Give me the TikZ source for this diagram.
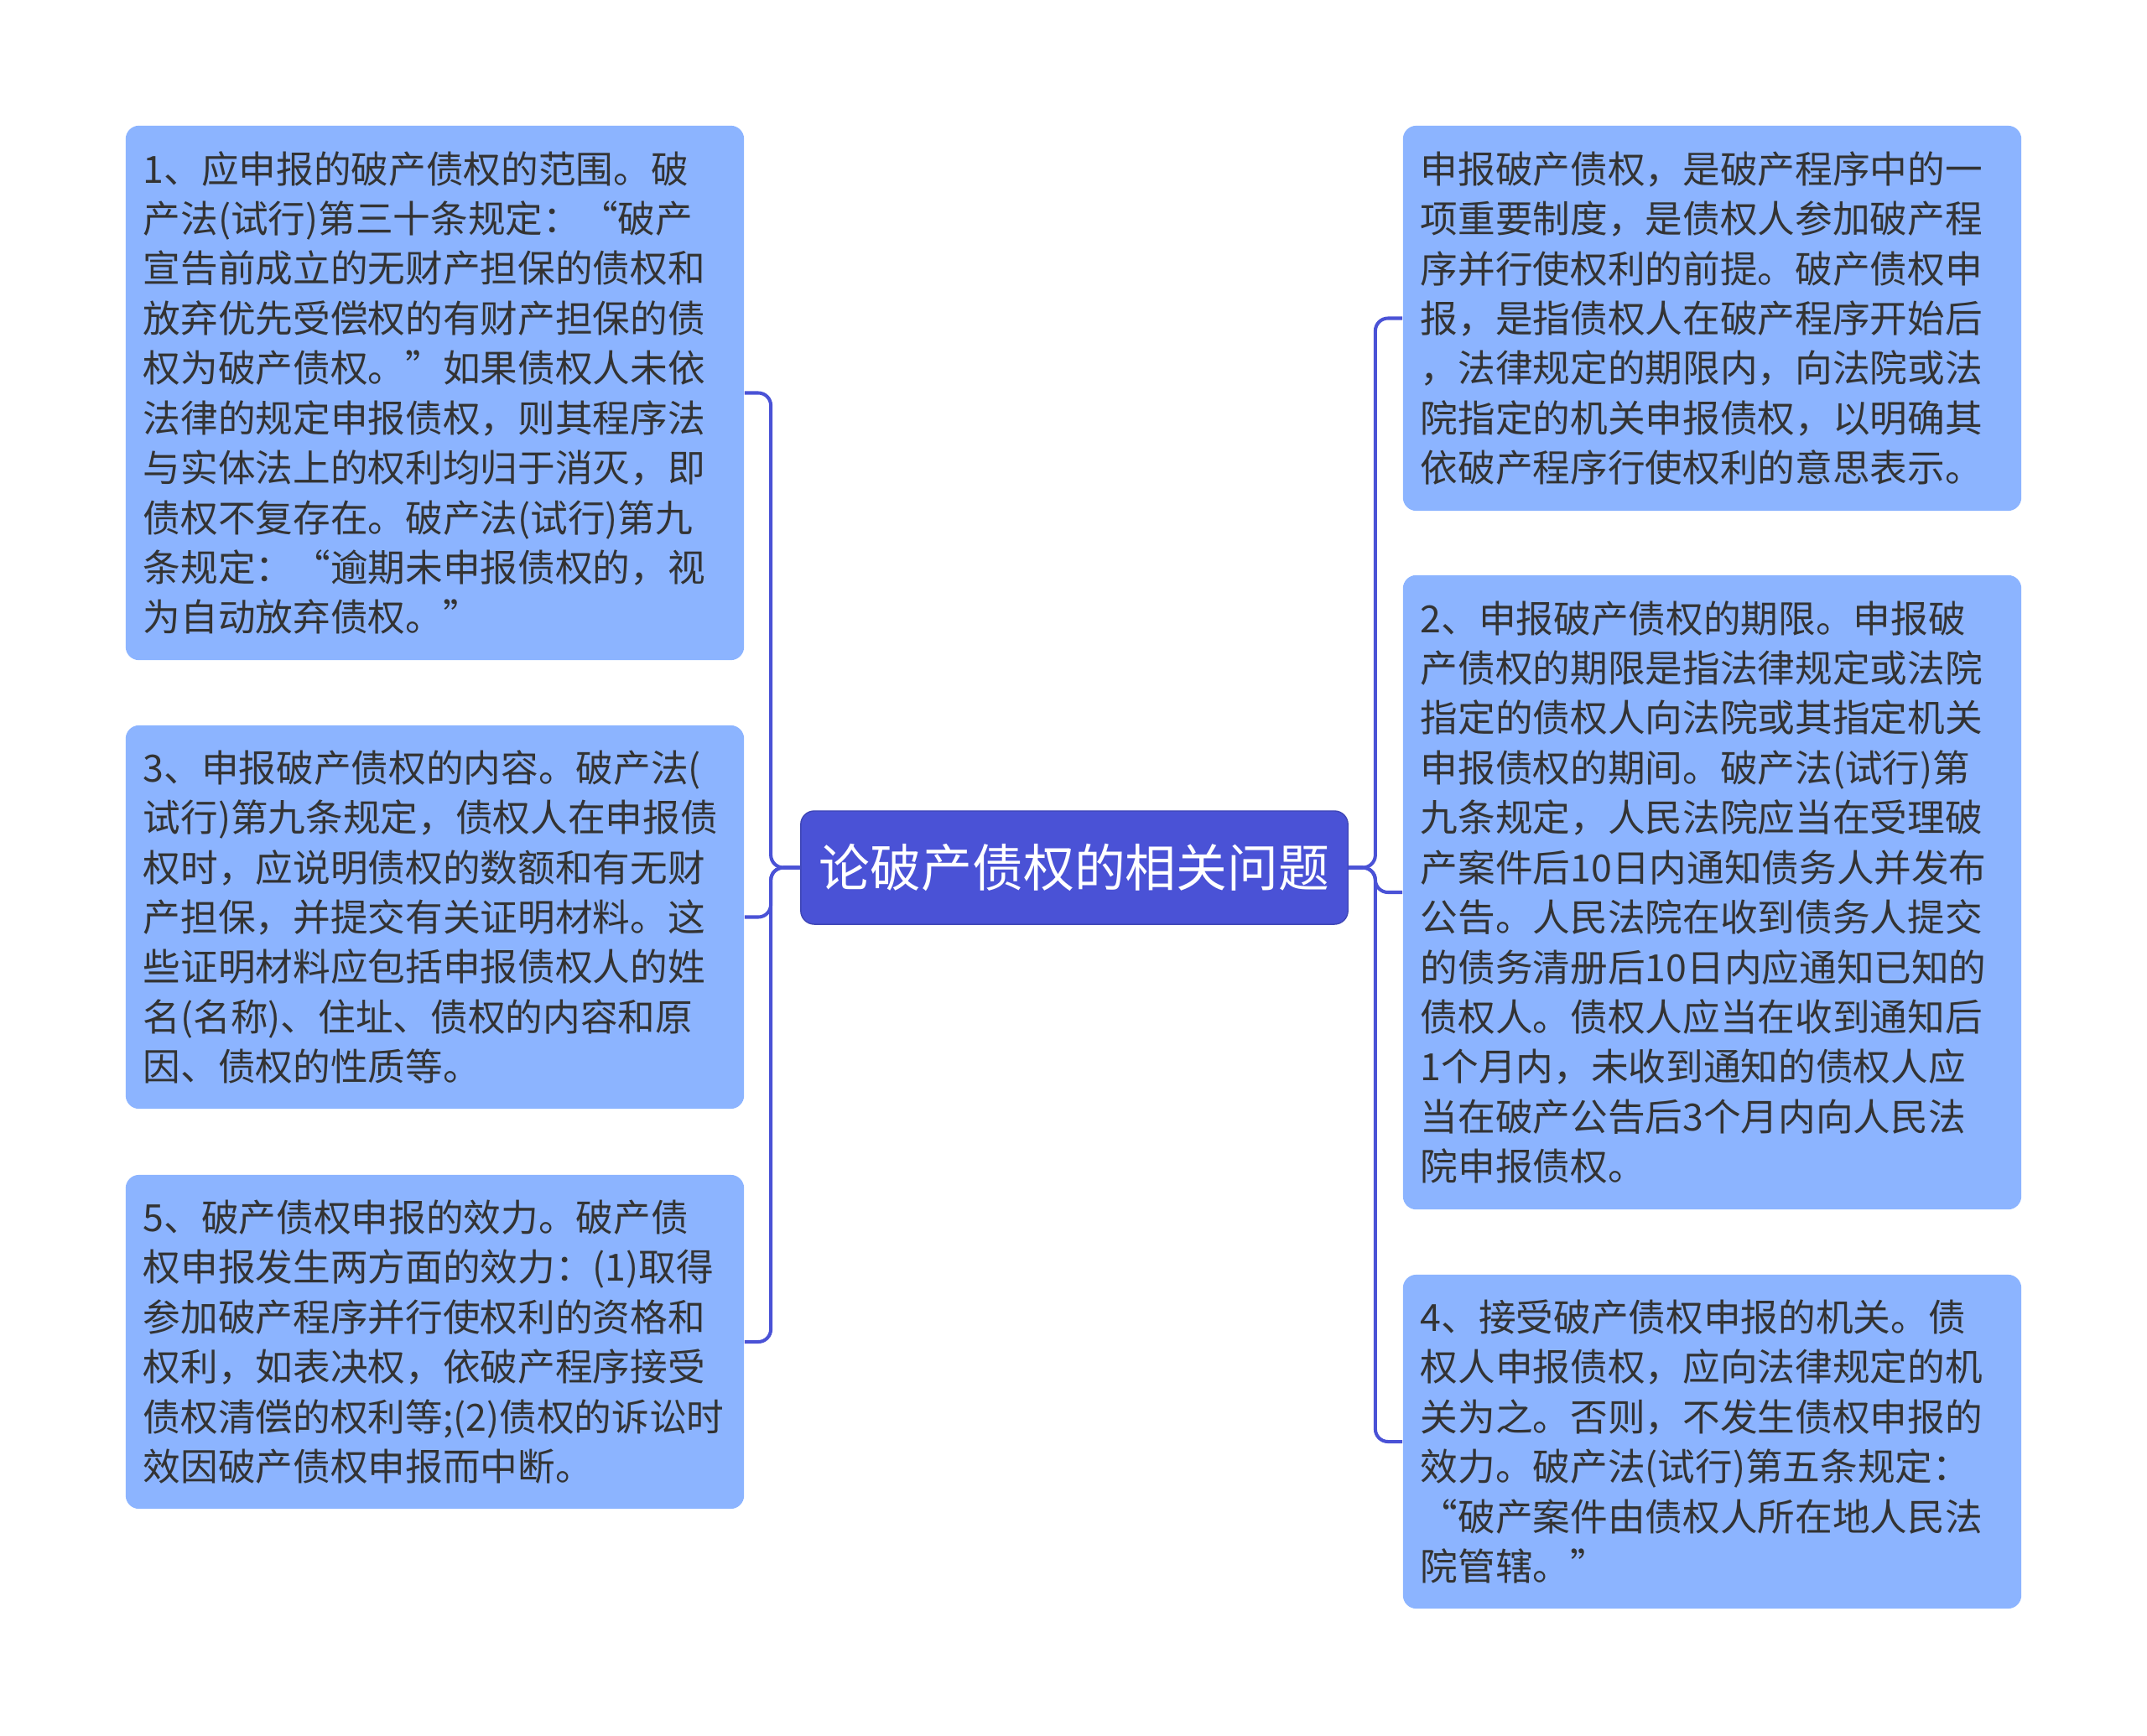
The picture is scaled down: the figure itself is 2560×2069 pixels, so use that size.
\documentclass[tikz,border=0pt]{standalone}
\usepackage{fontspec}
\setmainfont{Noto Sans CJK SC}
\usetikzlibrary{positioning}
\definecolor{topicblue}{HTML}{4A52D6}
\definecolor{leafblue}{HTML}{8CB4FF}
\definecolor{inkgray}{HTML}{333333}

\begin{document}
\begin{tikzpicture}[x=0.01cm,y=-0.01cm]
 \tikzset{leaf/.style={fill=leafblue,rounded corners=0.16cm,text width=6.95cm,inner xsep=0.21cm,
   align=left,text=inkgray,font=\fontsize{12.7pt}{16.9pt}\selectfont,anchor=center},
  topic/.style={fill=topicblue,draw=topicblue!85!black,line width=0.4pt,rounded corners=0.16cm,text=white,
   inner xsep=0pt,minimum width=6.52cm,minimum height=1.35cm,font=\fontsize{17.3pt}{21pt}\selectfont},
  branch/.style={draw=topicblue,line width=1.15pt,rounded corners=0.15cm}}
 \useasboundingbox (0,0) rectangle (2560,2069);

 \node[topic] (T) at (1281,1034.5) {论破产债权的相关问题};

 \node[leaf,minimum height=6.37cm] (L1) at (518.5,468.5) {1、应申报的破产债权的范围。破\\产法(试行)第三十条规定：“破产\\宣告前成立的无财产担保的债权和\\放弃优先受偿权的有财产担保的债\\权为破产债权。”如果债权人未依\\法律的规定申报债权，则其程序法\\与实体法上的权利均归于消灭，即\\债权不复存在。破产法(试行)第九\\条规定：“逾期未申报债权的，视\\为自动放弃债权。”};
 \node[leaf,minimum height=4.57cm] (L3) at (518.5,1093.5) {3、申报破产债权的内容。破产法(\\试行)第九条规定，债权人在申报债\\权时，应说明债权的数额和有无财\\产担保，并提交有关证明材料。这\\些证明材料应包括申报债权人的姓\\名(名称)、住址、债权的内容和原\\因、债权的性质等。};
 \node[leaf,minimum height=3.98cm] (L5) at (518.5,1600) {5、破产债权申报的效力。破产债\\权申报发生两方面的效力：(1)取得\\参加破产程序并行使权利的资格和\\权利，如表决权，依破产程序接受\\债权清偿的权利等;(2)债权的诉讼时\\效因破产债权申报而中断。};

 \node[leaf,minimum height=4.59cm] (R1) at (2041.5,379.5) {申报破产债权，是破产程序中的一\\项重要制度，是债权人参加破产程\\序并行使权利的前提。破产债权申\\报，是指债权人在破产程序开始后\\，法律规定的期限内，向法院或法\\院指定的机关申报债权，以明确其\\依破产程序行使权利的意思表示。};
 \node[leaf,minimum height=7.56cm] (R2) at (2041.5,1064) {2、申报破产债权的期限。申报破\\产债权的期限是指法律规定或法院\\指定的债权人向法院或其指定机关\\申报债权的期间。破产法(试行)第\\九条规定，人民法院应当在受理破\\产案件后10日内通知债务人并发布\\公告。人民法院在收到债务人提交\\的债务清册后10日内应通知已知的\\债权人。债权人应当在收到通知后\\1个月内，未收到通知的债权人应\\当在破产公告后3个月内向人民法\\院申报债权。};
 \node[leaf,minimum height=3.98cm] (R4) at (2041.5,1719) {4、接受破产债权申报的机关。债\\权人申报债权，应向法律规定的机\\关为之。否则，不发生债权申报的\\效力。破产法(试行)第五条规定：\\“破产案件由债权人所在地人民法\\院管辖。”};

 \foreach \n in {L1,L3,L5}
  \draw[branch] (T.west) -- ++(-35,0) |- (\n.east);
 \foreach \n in {R1,R2,R4}
  \draw[branch] (T.east) -- ++(32,0) |- (\n.west);
\end{tikzpicture}
\end{document}
